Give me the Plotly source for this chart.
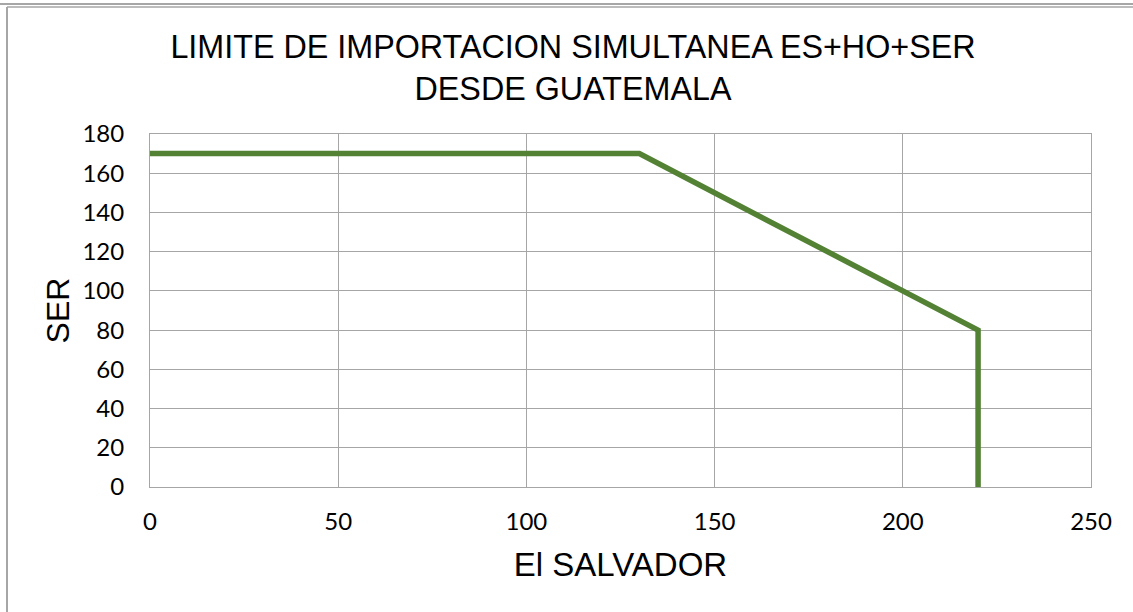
import plotly.graph_objects as go

# Data
el_salvador = [0, 130, 220, 220]
ser = [170, 170, 80, 0]
x_ticks = [0, 50, 100, 150, 200, 250]
y_ticks = [0, 20, 40, 60, 80, 100, 120, 140, 160, 180]

W, H = 1133, 612
L, R, T, B = 150, 42, 134, 125
pw, ph = W - L - R, H - T - B

def px_x(p):
    return (p - L) / pw

def px_y(p):
    return (H - B - p) / ph

fig = go.Figure()
fig.add_trace(go.Scatter(
    x=el_salvador, y=ser, mode="lines",
    line=dict(color="#548235", width=5.5),
    showlegend=False, hoverinfo="skip",
))

grid = "#a6a6a6"
tickfont = dict(family="Lato, Open Sans, sans-serif", size=24, color="#000000")
arial = "Liberation Sans, Arial, sans-serif"

fig.update_layout(
    width=W, height=H,
    margin=dict(l=L, r=R, t=T, b=B),
    paper_bgcolor="white", plot_bgcolor="white",
    title=dict(
        text="LIMITE DE IMPORTACION SIMULTANEA ES+HO+SER<br>DESDE GUATEMALA",
        x=573 / W, xanchor="center", xref="container",
        y=1 - 58 / H, yanchor="top",
        font=dict(family=arial, size=32.3, color="#000000"),
    ),
    xaxis=dict(
        range=[0, 250], tickvals=x_ticks, showgrid=True, gridcolor=grid, gridwidth=1,
        showline=True, linecolor=grid, linewidth=1, mirror=True, zeroline=False,
        tickfont=tickfont, ticklabelstandoff=13,
        title=dict(text="El SALVADOR", font=dict(family=arial, size=33, color="#000000"), standoff=19),
    ),
    yaxis=dict(
        range=[0, 180], tickvals=y_ticks, showgrid=True, gridcolor=grid, gridwidth=1,
        showline=True, linecolor=grid, linewidth=1, mirror=True, zeroline=False,
        tickfont=tickfont, ticklabelstandoff=20,
        title=dict(text="SER", font=dict(family=arial, size=32, color="#000000"), standoff=3),
    ),
)

# outer chart borders (partially visible in reference)
border = "#a6a6a6"
fig.add_shape(type="line", xref="paper", yref="paper",
              x0=px_x(0), x1=px_x(W), y0=px_y(4), y1=px_y(4),
              line=dict(color=border, width=2))
fig.add_shape(type="line", xref="paper", yref="paper",
              x0=px_x(7), x1=px_x(W), y0=px_y(7), y1=px_y(7),
              line=dict(color=border, width=1.5))
fig.add_shape(type="line", xref="paper", yref="paper",
              x0=px_x(7), x1=px_x(7), y0=px_y(7), y1=px_y(H),
              line=dict(color=border, width=2))

fig.write_html("out.html", config={"displayModeBar": False},
               post_script="document.body.style.margin='0px';document.body.style.overflow='hidden';")
